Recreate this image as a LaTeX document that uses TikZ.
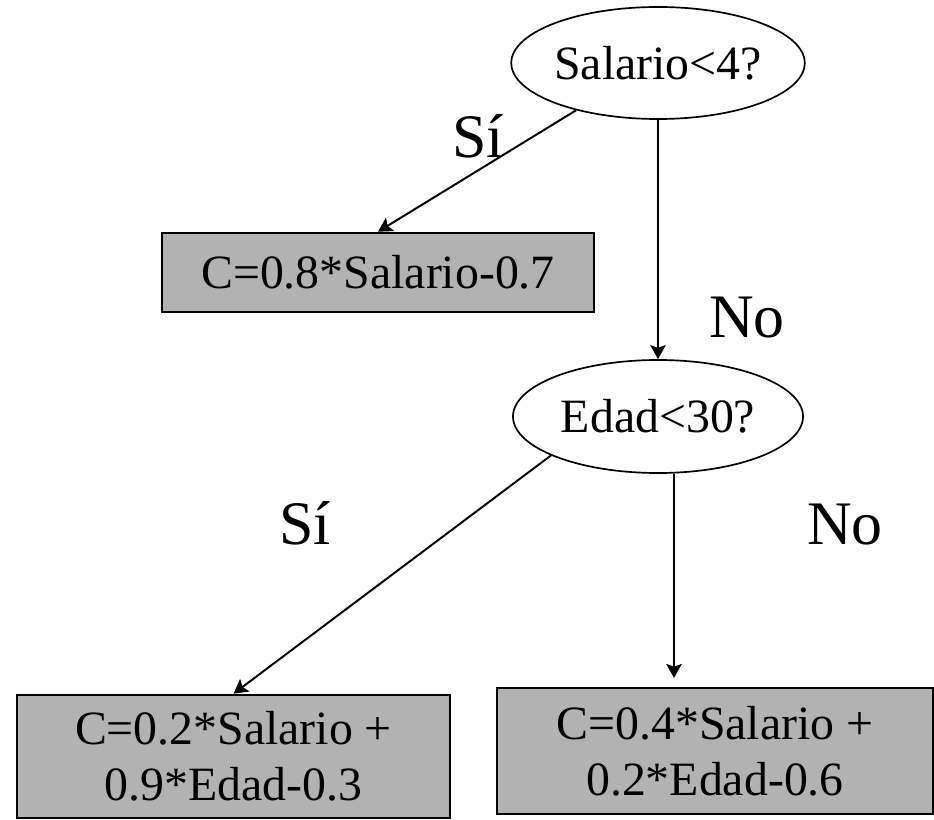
\documentclass[tikz,border=0pt]{standalone}
\usepackage{fontspec}
\setmainfont{Liberation Serif}
\usepackage{tikz}
\usetikzlibrary{shapes.geometric}
\usetikzlibrary{arrows.meta}
\definecolor{leafgray}{RGB}{178,178,178}

\begin{document}
\begin{tikzpicture}[x=0.025cm,y=-0.025cm,->,>={Stealth[length=10pt,width=11pt,inset=2pt]},line width=1.4pt,
	test node/.style={ellipse,draw,line width=1.2pt,inner sep=0pt,minimum width=7.25cm,minimum height=2.8cm,font=\fontsize{34}{40}\selectfont},
	leaf node/.style={rectangle,draw,fill=leafgray,line width=1.8pt,align=center,inner sep=0pt,font=\fontsize{34}{39.7}\selectfont},
	branch label/.style={anchor=base,inner sep=0pt,font=\fontsize{44}{48}\selectfont}]

	\useasboundingbox (0,0) rectangle (934,820);

	\node[test node] (salario) at (658,63) {Salario<4?};
	\node[leaf node,minimum width=10.8cm,minimum height=1.975cm] (hoja1) at (378,272.5) {C=0.8*Salario-0.7};
	\node[test node,minimum height=2.825cm] (edad) at (658,416.5) {Edad<30?};
	\node[leaf node,minimum width=10.825cm,minimum height=3.075cm] (hoja2) at (233.5,756.5) {C=0.2*Salario +\\0.9*Edad-0.3};
	\node[leaf node,minimum width=10.9cm,minimum height=3.15cm] (hoja3) at (715,751) {C=0.4*Salario +\\0.2*Edad-0.6};
	\coordinate (fin3) at (674,678);

	\node[branch label] (si1) at (478,158) {Sí};
	\node[branch label] (no1) at (747,337) {No};
	\node[branch label] (si2) at (305,544) {Sí};
	\node[branch label] (no2) at (845,544) {No};

	\path
	(salario.210)		edge (hoja1.north)
	(salario.south)	edge (edad.north)
	(edad.200)		edge (hoja2.north)
	(fin3 |- edad.south)	edge (fin3);
\end{tikzpicture}
\end{document}
